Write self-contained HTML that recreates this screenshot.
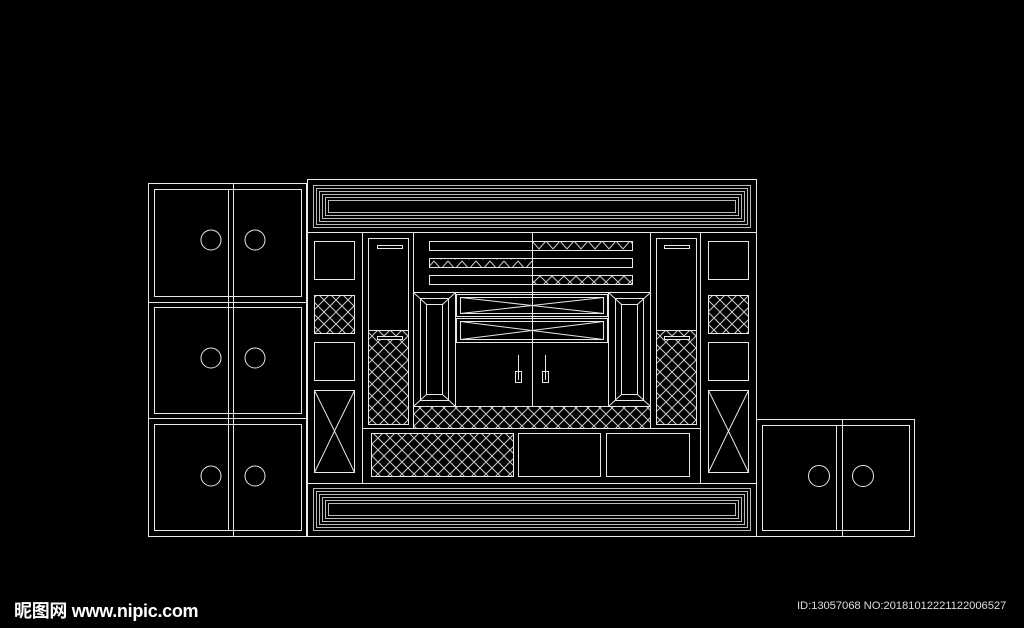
<!DOCTYPE html>
<html><head><meta charset="utf-8"><style>
html,body{margin:0;padding:0;background:#000;width:1024px;height:628px;overflow:hidden}
svg{position:absolute;left:0;top:0}
.t1{position:absolute;left:14px;top:597px;color:#fff;font:bold 18px "Liberation Sans","Noto Sans CJK SC",sans-serif;letter-spacing:-0.3px}
.t2{position:absolute;left:797px;top:600px;color:#ddd;font:11.3px "Liberation Sans",sans-serif;letter-spacing:-0.1px}
</style></head><body>
<svg width="1024" height="628" viewBox="0 0 1024 628" fill="none" stroke="#e8e8e8" stroke-width="1">
<defs>
<pattern id="h" width="12" height="12" patternUnits="userSpaceOnUse">
<path d="M0 12L12 0M-3 3L3 -3M9 15L15 9M0 0L12 12M-3 9L3 15M9 -3L15 3" stroke="#ccc" stroke-width="1"/>
</pattern>
<pattern id="z" width="14" height="10" patternUnits="userSpaceOnUse">
<path d="M0 1L7 9L14 1" stroke="#ccc"/>
</pattern>
</defs>
<g>
<rect x="148.5" y="183.5" width="158" height="353"/>
<line x1="148" y1="302.5" x2="306" y2="302.5"/><line x1="148" y1="418.5" x2="306" y2="418.5"/>
<rect x="154.5" y="189.5" width="147" height="107"/>
<rect x="154.5" y="307.5" width="147" height="106"/>
<rect x="154.5" y="424.5" width="147" height="106"/>
<line x1="228.5" y1="189" x2="228.5" y2="531"/><line x1="233.5" y1="183" x2="233.5" y2="536"/>
<circle cx="211" cy="240" r="10"/><circle cx="255" cy="240" r="10"/>
<circle cx="211" cy="358" r="10"/><circle cx="255" cy="358" r="10"/>
<circle cx="211" cy="476" r="10"/><circle cx="255" cy="476" r="10"/>
</g>
<g>
<rect x="756.5" y="419.5" width="158" height="117"/>
<rect x="762.5" y="425.5" width="147" height="105"/>
<line x1="836.5" y1="425" x2="836.5" y2="531"/><line x1="842.5" y1="419" x2="842.5" y2="536"/>
<circle cx="819" cy="476" r="10.5"/><circle cx="863" cy="476" r="10.5"/>
</g>
<rect x="307.5" y="179.5" width="449" height="357"/>
<line x1="307" y1="232.5" x2="756" y2="232.5"/>
<line x1="307" y1="483.5" x2="756" y2="483.5"/>
<g stroke="#bbb">
<rect x="313.5" y="185.5" width="437" height="42"/>
<rect x="316.5" y="188.5" width="431" height="36"/>
<rect x="319.5" y="191.5" width="425" height="30"/>
<rect x="322.5" y="194.5" width="419" height="24"/>
<rect x="325.5" y="197.5" width="413" height="18"/>
<rect x="328.5" y="200.5" width="407" height="12"/>
<rect x="313.5" y="488.5" width="437" height="42"/>
<rect x="316.5" y="491.5" width="431" height="36"/>
<rect x="319.5" y="494.5" width="425" height="30"/>
<rect x="322.5" y="497.5" width="419" height="24"/>
<rect x="325.5" y="500.5" width="413" height="18"/>
<rect x="328.5" y="503.5" width="407" height="12"/>
</g>
<line x1="362.5" y1="232" x2="362.5" y2="483"/>
<line x1="700.5" y1="232" x2="700.5" y2="483"/>
<rect x="314.5" y="241.5" width="40" height="38"/>
<rect x="314.5" y="295.5" width="40" height="38" fill="url(#h)"/>
<rect x="314.5" y="342.5" width="40" height="38"/>
<rect x="314.5" y="390.5" width="40" height="82"/>
<path d="M314.5 390.5L334.5 431L354.5 390.5M314.5 472.5L334.5 431L354.5 472.5"/>
<rect x="708.5" y="241.5" width="40" height="38"/>
<rect x="708.5" y="295.5" width="40" height="38" fill="url(#h)"/>
<rect x="708.5" y="342.5" width="40" height="38"/>
<rect x="708.5" y="390.5" width="40" height="82"/>
<path d="M708.5 390.5L728.5 431L748.5 390.5M708.5 472.5L728.5 431L748.5 472.5"/>
<rect x="368.5" y="238.5" width="40" height="186"/>
<rect x="368.5" y="330.5" width="40" height="94" fill="url(#h)"/>
<rect x="377.5" y="245.5" width="25" height="3"/>
<rect x="377.5" y="336.5" width="25" height="3" fill="#000"/>
<rect x="656.5" y="238.5" width="40" height="186"/>
<rect x="656.5" y="330.5" width="40" height="94" fill="url(#h)"/>
<rect x="664.5" y="245.5" width="25" height="3"/>
<rect x="664.5" y="336.5" width="25" height="3" fill="#000"/>
<line x1="532.5" y1="232" x2="532.5" y2="406"/>
<rect x="429.5" y="241.5" width="203" height="9"/>
<rect x="532.5" y="241.5" width="100" height="9" fill="url(#z)"/>
<rect x="429.5" y="258.5" width="203" height="9"/>
<rect x="429.5" y="258.5" width="103" height="9" fill="url(#z)"/>
<rect x="429.5" y="275.5" width="203" height="9"/>
<rect x="532.5" y="275.5" width="100" height="9" fill="url(#h)"/>
<line x1="413.5" y1="232" x2="413.5" y2="429"/>
<line x1="650.5" y1="232" x2="650.5" y2="429"/>
<rect x="413.5" y="292.5" width="237" height="114"/>
<rect x="413.5" y="292.5" width="42" height="114"/>
<rect x="420.5" y="298.5" width="28" height="102"/>
<rect x="426.5" y="304.5" width="16" height="90"/>
<path d="M413.5 292.5L426.5 304.5M455.5 292.5L442.5 304.5M413.5 406.5L426.5 394.5M455.5 406.5L442.5 394.5"/>
<rect x="608.5" y="292.5" width="42" height="114"/>
<rect x="615.5" y="298.5" width="28" height="102"/>
<rect x="621.5" y="304.5" width="16" height="90"/>
<path d="M608.5 292.5L621.5 304.5M650.5 292.5L637.5 304.5M608.5 406.5L621.5 394.5M650.5 406.5L637.5 394.5"/>
<rect x="456.5" y="294.5" width="151" height="22"/>
<rect x="460.5" y="297.5" width="143" height="16"/>
<path d="M460.5 297.5L532 305.5L603.5 297.5M460.5 313.5L532 305.5L603.5 313.5"/>
<rect x="456.5" y="318.5" width="151" height="24"/>
<rect x="460.5" y="321.5" width="143" height="18"/>
<path d="M460.5 321.5L532 330.5L603.5 321.5M460.5 339.5L532 330.5L603.5 339.5"/>
<line x1="456" y1="342.5" x2="608" y2="342.5"/>
<rect x="515.5" y="371.5" width="6" height="11"/><line x1="518.5" y1="355" x2="518.5" y2="380"/>
<rect x="542.5" y="371.5" width="6" height="11"/><line x1="545.5" y1="355" x2="545.5" y2="380"/>
<rect x="413.5" y="406.5" width="237" height="22" fill="url(#h)"/>
<line x1="362" y1="428.5" x2="700" y2="428.5"/>
<rect x="371.5" y="433.5" width="142" height="43" fill="url(#h)"/>
<rect x="518.5" y="433.5" width="82" height="43"/>
<rect x="606.5" y="433.5" width="83" height="43"/>
</svg>
<div class="t1">昵图网 www.nipic.com</div>
<div class="t2">ID:13057068 NO:20181012221122006527</div>
</body></html>
